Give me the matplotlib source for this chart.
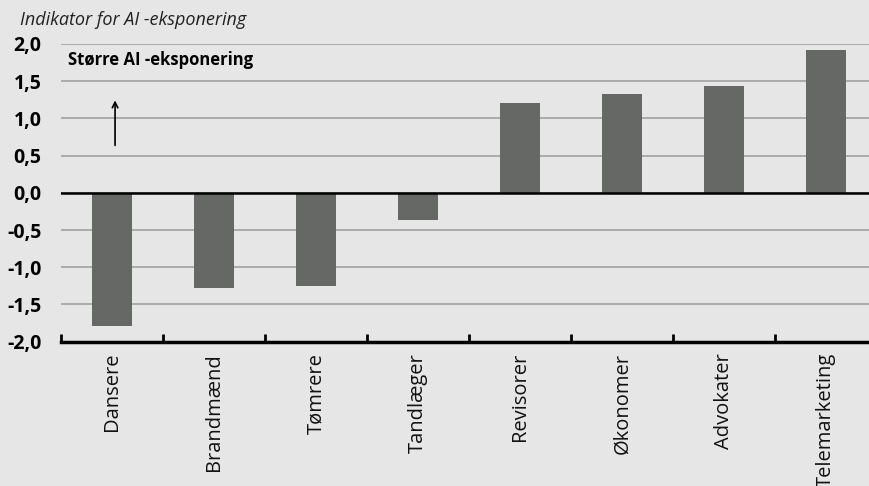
import numpy as np
import matplotlib.pyplot as plt

plt.rcParams['font.family'] = ['Open Sans', 'DejaVu Sans']

jobs = ["Dansere", "Brandmænd", "Tømrere", "Tandlæger",
        "Revisorer", "Økonomer", "Advokater", "Telemarketing"]
exposure = [-1.79, -1.28, -1.245, -0.36, 1.21, 1.33, 1.44, 1.92]
yticks = [-2.0, -1.5, -1.0, -0.5, 0.0, 0.5, 1.0, 1.5, 2.0]
ylabels = ["-2,0", "-1,5", "-1,0", "-0,5", "0,0", "0,5", "1,0", "1,5", "2,0"]

bg = "#e6e6e6"
fig = plt.figure(figsize=(8.69, 4.86), dpi=100, facecolor=bg)
ax = fig.add_axes([61/869, (486-341.7)/486, 816/869, (341.7-44)/486])
ax.set_facecolor(bg)

x = np.arange(len(jobs))
ax.bar(x, exposure, width=0.4, color="#666865", zorder=3)

ax.set_xlim(-0.5, len(jobs) - 0.5)
ax.set_ylim(-2, 2)
ax.set_yticks(yticks)
ax.set_yticklabels(ylabels, fontsize=14, fontweight="bold")
ax.grid(axis="y", color="#a6a6a6", linewidth=1.3, zorder=0)
ax.axhline(0, color="black", linewidth=1.8, zorder=4)

ax.set_xticks(x)
ax.set_xticklabels(jobs, rotation=90, fontsize=14.5, color="#111111")
ax.set_xticks(np.arange(-0.5, len(jobs), 1), minor=True)
ax.tick_params(axis="x", which="major", length=0, pad=8)
ax.tick_params(axis="x", which="minor", direction="in", length=6, width=2)
ax.tick_params(axis="y", length=0, pad=14)

for s in ["left", "right", "top"]:
    ax.spines[s].set_visible(False)
ax.spines["bottom"].set_linewidth(2.5)
ax.spines["bottom"].set_zorder(5)

fig.text(20/869, 1 - 20/486, "Indikator for AI -eksponering", fontsize=13,
         style="italic", color="#222222", va="center")
ax.text(-0.43, 1.78, "Større AI -eksponering", fontsize=12, fontweight="bold",
        va="center")
ax.annotate("", xy=(0.03, 1.28), xytext=(0.03, 0.6),
            arrowprops=dict(arrowstyle="->", color="black", lw=1.2))

fig.savefig("out.png", dpi=100, facecolor=bg)
